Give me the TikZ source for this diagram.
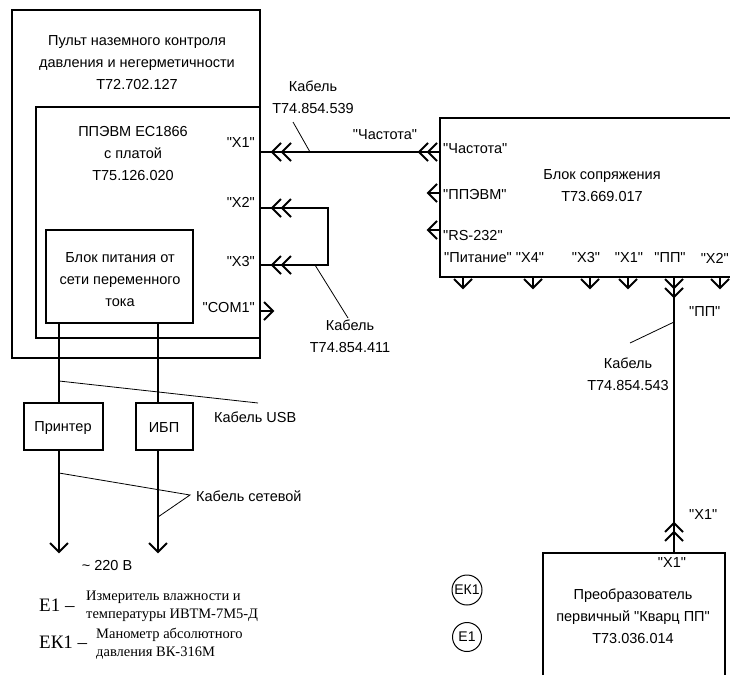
\documentclass[tikz,border=0pt]{standalone}
\usepackage{fontspec}
\setmainfont{Liberation Sans}[Ligatures=TeXOff]
\newfontfamily\legendfont{Liberation Serif}[Ligatures=TeXOff]
\usetikzlibrary{calc}
\begin{document}
\begin{tikzpicture}[x=1pt,y=-1pt,
  blk/.style={draw, line width=1.1pt, inner sep=0pt, outer sep=0pt, anchor=north west},
  txt/.style={inner sep=0pt, font=\fontsize{14.5}{22}\selectfont, align=center},
  wire/.style={line width=2pt},
  leader/.style={line width=0.8pt},
  pics/chev/.style={code={\draw[line width=2pt] (-9,-9) -- (0,0) -- (-9,9);}},
]
\useasboundingbox[fill=white] (0,0) rectangle (730,675);

% ---------- boxes ----------
\node[blk, minimum width=248pt, minimum height=348pt] (pult) at (12,10) {};
\node[blk, minimum width=224pt, minimum height=231pt] (ppevm) at (36,107) {};
\node[blk, minimum width=147pt, minimum height=93pt] (psu) at (46,230) {};
\node[blk, minimum width=79pt, minimum height=47pt] (printer) at (24,403) {};
\node[blk, minimum width=57pt, minimum height=47pt] (ups) at (136,403) {};
\node[blk, draw=none, minimum width=290pt, minimum height=159pt] (bs) at (440,118) {};
\draw[line width=1.1pt] (bs.north east) -- (bs.north west) -- (bs.south west) -- (bs.south east);
\node[blk, draw=none, minimum width=182pt, minimum height=122pt] (conv) at (543,553) {};
\draw[line width=1.1pt] (conv.south west) -- (conv.north west) -- (conv.north east) -- (conv.south east);

% ---------- box texts ----------
\node[txt] (tpult) at (137,63) {Пульт наземного контроля\\давления и негерметичности\\Т72.702.127};
\node[txt] (tppevm) at (133,154) {ППЭВМ ЕС1866\\с платой\\Т75.126.020};
\node[txt] (tpsu) at (120,280) {Блок питания от\\сети переменного\\тока};
\node[txt] (tprinter) at (63,428) {Принтер};
\node[txt] (tups) at (164,428) {ИБП};
\node[txt] (tbs) at (602,186) {Блок сопряжения\\Т73.669.017};
\node[txt] (tconv) at (633,616) {Преобразователь\\первичный "Кварц ПП"\\Т73.036.014};
\node[txt] (cx1) at (672,563) {"Х1"};

% ---------- port labels ----------
\node[txt, anchor=east] (lx1) at (255,143) {"Х1"};
\node[txt, anchor=east] (lx2) at (255,202) {"Х2"};
\node[txt, anchor=east] (lx3) at (255,262) {"Х3"};
\node[txt, anchor=east] (lcom) at (255,308) {"COM1"};
\node[txt, anchor=west] (lfr) at (443,149) {"Частота"};
\node[txt, anchor=west] (lpp) at (443,195) {"ППЭВМ"};
\node[txt, anchor=west] (lrs) at (443,236) {"RS-232"};
\node[txt] (lpit) at (478,258) {"Питание"};
\node[txt] (lx4) at (530,258) {"Х4"};
\node[txt] (lbx3) at (586,258) {"Х3"};
\node[txt] (lbx1) at (629,258) {"Х1"};
\node[txt] (lbpp) at (670,258) {"ПП"};
\node[txt, anchor=east] (lbx2) at (729,258) {"Х2"};

% ---------- port coordinates ----------
\coordinate (px1) at (260,152);
\coordinate (px2) at (260,208);
\coordinate (px3) at (260,265);
\coordinate (pcom) at (260,311);
\coordinate (bfr) at (440,152);
\coordinate (bpp) at (440,193);
\coordinate (brs) at (440,230);

% ---------- cable "Частота" ----------
\draw[wire] (px1) -- (bfr);
\pic[rotate=180] at (272,152) {chev};
\pic[rotate=180] at (282,152) {chev};
\pic[rotate=180] at (419,152) {chev};
\pic[rotate=180] at (428,152) {chev};
\node[txt] (lcab1) at (313,97) {Кабель\\Т74.854.539};
\node[txt] (lfreq) at (385,135) {"Частота"};
\coordinate (c1a) at (293,122);
\coordinate (c1b) at (310,152);
\draw[leader] (c1a) -- (c1b);

% ---------- cable X2-X3 ----------
\draw[wire] (px2) -- ++(68,0) |- (px3);
\pic[rotate=180] at (272,208) {chev};
\pic[rotate=180] at (282,208) {chev};
\pic[rotate=180] at (272,265) {chev};
\pic[rotate=180] at (282,265) {chev};
\node[txt] (lcab2) at (350,336) {Кабель\\Т74.854.411};
\coordinate (c2a) at (315,265);
\coordinate (c2b) at (348,318);
\draw[leader] (c2a) -- (c2b);

% ---------- COM1 ----------
\coordinate (comt) at (273,311);
\draw[wire] (pcom) -- (comt);
\pic at (comt) {chev};

% ---------- ports of Блок сопряжения ----------
\coordinate (bppt) at (428,193);
\coordinate (brst) at (428,230);
\draw[wire] (bpp) -- (bppt);
\pic[rotate=180] at (bppt) {chev};
\draw[wire] (brs) -- (brst);
\pic[rotate=180] at (brst) {chev};

\foreach \xx/\nm in {463/a,533/b,590/c,628/d,720/f}{
  \coordinate (bt\nm) at (\xx,277);
  \coordinate (bb\nm) at (\xx,288);
  \draw[wire] (bt\nm) -- (bb\nm);
  \pic[rotate=-90] at (bb\nm) {chev};
}

% ---------- cable ПП ----------
\coordinate (ppt) at (674,277);
\coordinate (ppb) at (674,553);
\draw[wire] (ppt) -- (ppb);
\pic[rotate=-90] at (674,288) {chev};
\pic[rotate=-90] at (674,297) {chev};
\pic[rotate=90] at (674,523) {chev};
\pic[rotate=90] at (674,532) {chev};
\node[txt, anchor=west] (lpp2) at (689,312) {"ПП"};
\node[txt, anchor=west] (lx1b) at (689,515) {"Х1"};
\node[txt] (lcab3) at (628,374) {Кабель\\Т74.854.543};
\coordinate (c3a) at (674,322);
\coordinate (c3b) at (630,343);
\draw[leader] (c3a) -- (c3b);

% ---------- power / USB ----------
\coordinate (p1) at (59,0);
\coordinate (p2) at (158,0);
\draw[wire] (psu.south -| p1) -- (printer.north -| p1);
\draw[wire] (psu.south -| p2) -- (ups.north -| p2);
\coordinate (a1) at (59,552);
\coordinate (a2) at (158,552);
\draw[wire] (printer.south -| p1) -- (a1);
\draw[wire] (ups.south -| p2) -- (a2);
\pic[rotate=-90] at (a1) {chev};
\pic[rotate=-90] at (a2) {chev};
\node[txt] (l220) at (107,565) {\textasciitilde{} 220 В};

\coordinate (u1) at (59,381);
\coordinate (u2) at (258,403);
\draw[leader] (u1) -- (u2);
\node[txt, anchor=west] (lusb) at (214,417) {Кабель USB};

\coordinate (s1) at (59,473);
\coordinate (s2) at (190,495);
\coordinate (s3) at (158,517);
\draw[leader] (s1) -- (s2) -- (s3);
\node[txt, anchor=west] (lnet) at (196,496) {Кабель сетевой};

% ---------- circles ----------
\node[draw, circle, line width=1pt, minimum size=30pt, inner sep=0pt, font=\fontsize{14}{14}\selectfont] (ek1) at (467,590) {ЕК1};
\node[draw, circle, line width=1pt, minimum size=29pt, inner sep=0pt, font=\fontsize{14}{14}\selectfont] (e1) at (467,637) {Е1};

% ---------- legend ----------
\node[anchor=west, inner sep=0pt, font=\legendfont\fontsize{19}{20}\selectfont] (le1) at (39,605) {Е1 –};
\node[anchor=west, inner sep=0pt, align=left, font=\legendfont\fontsize{14.5}{18}\selectfont] (le1t) at (86,606) {Измеритель влажности и\\температуры ИВТМ-7М5-Д};
\node[anchor=west, inner sep=0pt, font=\legendfont\fontsize{19}{20}\selectfont] (lek1) at (39,642) {ЕК1 –};
\node[anchor=west, inner sep=0pt, align=left, font=\legendfont\fontsize{14.5}{18}\selectfont] (lek1t) at (96,644) {Манометр абсолютного\\давления ВК-316М};
\end{tikzpicture}
\end{document}
